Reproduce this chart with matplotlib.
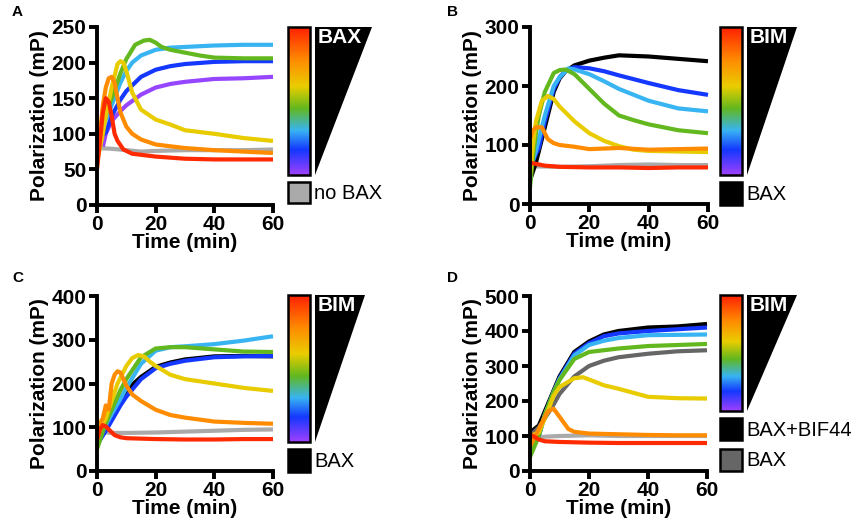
import numpy as np
import matplotlib
matplotlib.use("Agg")
import matplotlib.pyplot as plt
from matplotlib.colors import LinearSegmentedColormap
from matplotlib.patches import Rectangle, Polygon

plt.rcParams['font.family'] = ['Liberation Sans', 'DejaVu Sans']

W, H = 858, 528

# colours of the titration series
RED = '#ff2a00'
ORANGE = '#ff8c00'
YELLOW = '#e8cc00'
GREEN = '#62b81e'
LBLUE = '#38b4f2'
BLUE = '#1438ff'
PURPLE = '#9646ff'
LGRAY = '#aaaaaa'
DGRAY = '#666666'
BLACK = '#000000'

# -----------------------------
# Panel A: BAX titration (time in min, polarization in mP)
# -----------------------------
a_gray_t = [0, 5, 10, 15, 20, 30, 40, 50, 60]
a_gray = [80, 79, 77, 75, 76, 77, 77, 77, 78]
a_purple_t = [2, 3, 5, 8, 10, 15, 20, 25, 30, 40, 50, 60]
a_purple = [82, 100, 118, 132, 140, 155, 165, 170, 173, 177, 178, 180]
a_blue_t = [0, 2, 3, 5, 8, 10, 15, 20, 25, 30, 40, 50, 60]
a_blue = [100, 98, 102, 125, 148, 160, 180, 190, 195, 198, 201, 202, 202]
a_lblue_t = [0, 2, 5, 8, 10, 12, 15, 20, 25, 30, 40, 50, 60]
a_lblue = [90, 110, 140, 172, 188, 200, 210, 218, 221, 222, 224, 225, 225]
a_green_t = [0, 2, 3, 5, 8, 10, 13, 16, 18, 20, 22, 25, 30, 35, 40, 50, 60]
a_green = [70, 110, 128, 150, 185, 205, 225, 231, 232, 228, 222, 218, 214, 210, 207, 206, 206]
a_yellow_t = [0, 2, 3, 5, 7, 8, 9, 10, 12, 15, 20, 25, 30, 40, 50, 60]
a_yellow = [60, 100, 125, 165, 198, 202, 200, 188, 158, 134, 120, 113, 105, 100, 94, 90]
a_orange_t = [0, 1, 2, 3, 4, 5, 6, 7, 8, 10, 12, 15, 20, 30, 40, 50, 60]
a_orange = [55, 100, 140, 165, 178, 180, 172, 150, 130, 110, 100, 92, 85, 80, 77, 75, 73]
a_red_t = [0, 1, 2, 3, 4, 5, 6, 7, 9, 12, 20, 30, 40, 50, 60]
a_red = [50, 90, 130, 150, 145, 125, 100, 90, 78, 72, 68, 65, 64, 64, 64]

# -----------------------------
# Panel B: BIM titration with BAX
# -----------------------------
b_gray_t = [0, 10, 20, 30, 40, 50, 60]
b_gray = [64, 63, 64, 66, 67, 66, 66]
b_black_t = [0, 2, 3, 5, 8, 10, 12, 15, 20, 25, 30, 35, 40, 50, 60]
b_black = [40, 70, 90, 130, 190, 213, 225, 235, 243, 248, 252, 251, 250, 246, 242]
b_blue_t = [0, 2, 3, 5, 8, 10, 12, 15, 20, 25, 30, 40, 50, 60]
b_blue = [60, 85, 95, 140, 195, 215, 226, 232, 230, 225, 218, 205, 193, 185]
b_lblue_t = [0, 2, 5, 8, 10, 13, 15, 20, 25, 30, 35, 40, 50, 60]
b_lblue = [60, 90, 150, 200, 215, 230, 228, 220, 208, 195, 185, 175, 162, 157]
b_green_t = [0, 1, 2, 3, 5, 8, 10, 12, 15, 20, 25, 30, 35, 40, 50, 60]
b_green = [28, 80, 120, 150, 190, 222, 227, 228, 220, 195, 170, 150, 142, 135, 125, 120]
b_yellow_t = [0, 1, 2, 4, 6, 8, 10, 15, 20, 25, 30, 35, 40, 50, 60]
b_yellow = [50, 100, 140, 175, 183, 178, 165, 140, 120, 107, 98, 92, 90, 89, 88]
b_orange_t = [0, 1, 2, 4, 5, 6, 8, 10, 15, 20, 30, 40, 50, 60]
b_orange = [110, 125, 130, 130, 120, 110, 103, 100, 97, 93, 95, 92, 93, 94]
b_red_t = [0, 5, 10, 20, 30, 40, 50, 60]
b_red = [70, 65, 63, 62, 62, 61, 62, 62]

# -----------------------------
# Panel C: BIM titration with BAX
# -----------------------------
c_gray_t = [0, 5, 10, 20, 30, 40, 50, 60]
c_gray = [90, 87, 87, 88, 90, 92, 94, 95]
c_black_t = [0, 3, 5, 8, 10, 15, 20, 25, 30, 40, 50, 60]
c_black = [60, 95, 120, 160, 185, 215, 238, 248, 255, 262, 263, 262]
c_blue_t = [0, 3, 5, 8, 10, 15, 20, 25, 30, 40, 50, 60]
c_blue = [60, 92, 115, 150, 170, 210, 235, 245, 252, 260, 262, 263]
c_lblue_t = [0, 3, 5, 8, 10, 15, 20, 25, 30, 40, 50, 60]
c_lblue = [70, 105, 130, 165, 190, 245, 275, 283, 285, 290, 298, 308]
c_green_t = [0, 3, 5, 8, 10, 15, 20, 25, 30, 40, 50, 60]
c_green = [50, 110, 140, 185, 210, 260, 280, 283, 283, 278, 273, 272]
c_yellow_t = [0, 3, 5, 7, 10, 12, 14, 16, 18, 20, 25, 30, 40, 50, 60]
c_yellow = [80, 120, 160, 200, 240, 258, 265, 262, 250, 240, 220, 210, 200, 190, 183]
c_orange_t = [0, 1, 2, 3, 4, 5, 6, 7, 8, 9, 10, 12, 15, 20, 25, 30, 40, 50, 60]
c_orange = [100, 110, 120, 150, 140, 200, 220, 228, 225, 210, 195, 175, 160, 140, 128, 122, 113, 110, 108]
c_red_t = [0, 1, 2, 3, 4, 6, 8, 10, 20, 30, 40, 50, 60]
c_red = [70, 95, 105, 102, 95, 82, 77, 75, 73, 72, 72, 73, 73]

# -----------------------------
# Panel D: BIM titration with BAX+BIF44
# -----------------------------
d_lgray_t = [0, 3, 5, 10, 20, 30, 40, 50, 60]
d_lgray = [100, 95, 98, 100, 102, 100, 100, 100, 100]
d_dgray_t = [0, 3, 5, 8, 10, 15, 20, 25, 30, 40, 50, 60]
d_dgray = [100, 125, 150, 190, 220, 270, 300, 315, 325, 335, 342, 345]
d_black_t = [0, 3, 5, 8, 10, 15, 20, 25, 30, 40, 50, 60]
d_black = [110, 130, 170, 230, 270, 340, 370, 390, 400, 410, 413, 420]
d_blue_t = [0, 3, 5, 8, 10, 15, 20, 25, 30, 40, 50, 60]
d_blue = [60, 100, 160, 225, 265, 335, 365, 385, 393, 400, 405, 410]
d_lblue_t = [0, 3, 5, 8, 10, 15, 20, 25, 30, 40, 50, 60]
d_lblue = [60, 100, 160, 225, 262, 330, 360, 372, 380, 388, 389, 390]
d_green_t = [0, 3, 5, 8, 10, 15, 20, 25, 30, 40, 50, 60]
d_green = [40, 100, 160, 225, 260, 320, 340, 345, 350, 357, 360, 363]
d_yellow_t = [0, 3, 6, 8, 10, 15, 18, 22, 25, 30, 40, 50, 60]
d_yellow = [100, 110, 170, 215, 240, 265, 268, 255, 245, 235, 212, 208, 207]
d_orange_t = [0, 3, 6, 8, 10, 13, 15, 20, 30, 40, 50, 60]
d_orange = [70, 120, 170, 178, 155, 120, 112, 107, 105, 103, 102, 102]
d_red_t = [0, 1, 3, 5, 10, 20, 30, 40, 50, 60]
d_red = [105, 100, 90, 85, 83, 81, 80, 80, 80, 80]

rainbow = LinearSegmentedColormap.from_list(
    'rainbow_bar',
    [(0.0, '#ff2000'), (0.22, '#ff8a00'), (0.40, '#eacd00'), (0.55, '#62b81e'),
     (0.70, '#38b4f2'), (0.83, '#1438ff'), (1.0, '#a040ff')])

fig = plt.figure(figsize=(W / 100, H / 100), dpi=100)


def px_axes(left, top, right, bottom):
    return fig.add_axes([left / W, 1 - bottom / H, (right - left) / W, (bottom - top) / H])


def style_axes(ax, ymax, ystep):
    ax.set_xlim(0, 60)
    ax.set_ylim(0, ymax)
    ax.set_xticks([0, 20, 40, 60])
    ax.set_yticks(np.arange(0, ymax + 1, ystep))
    for s in ['top', 'right']:
        ax.spines[s].set_visible(False)
    for s in ['left', 'bottom']:
        ax.spines[s].set_linewidth(2.8)
        ax.spines[s].set_capstyle('projecting')
    ax.tick_params(width=2.8, length=6, labelsize=15, pad=1.5)
    for lab in ax.get_xticklabels() + ax.get_yticklabels():
        lab.set_fontweight('bold')
    ax.set_xlabel('Time (min)', fontsize=15, fontweight='bold', labelpad=-1)
    ax.set_ylabel('Polarization (mP)', fontsize=15, fontweight='bold', labelpad=2)


def draw(ax, series):
    for t, y, c in series:
        ax.plot(t, y, color=c, lw=3.0, solid_capstyle='butt', clip_on=False)


axA = px_axes(97, 27, 273, 205)
draw(axA, [(a_gray_t, a_gray, LGRAY), (a_purple_t, a_purple, PURPLE), (a_blue_t, a_blue, BLUE),
           (a_lblue_t, a_lblue, LBLUE), (a_green_t, a_green, GREEN), (a_yellow_t, a_yellow, YELLOW),
           (a_orange_t, a_orange, ORANGE), (a_red_t, a_red, RED)])
style_axes(axA, 250, 50)

axB = px_axes(530, 27, 708, 204)
draw(axB, [(b_gray_t, b_gray, LGRAY), (b_black_t, b_black, BLACK), (b_blue_t, b_blue, BLUE),
           (b_lblue_t, b_lblue, LBLUE), (b_green_t, b_green, GREEN), (b_yellow_t, b_yellow, YELLOW),
           (b_orange_t, b_orange, ORANGE), (b_red_t, b_red, RED)])
style_axes(axB, 300, 100)

axC = px_axes(97, 296, 273, 471)
draw(axC, [(c_gray_t, c_gray, LGRAY), (c_black_t, c_black, BLACK), (c_blue_t, c_blue, BLUE),
           (c_lblue_t, c_lblue, LBLUE), (c_green_t, c_green, GREEN), (c_yellow_t, c_yellow, YELLOW),
           (c_orange_t, c_orange, ORANGE), (c_red_t, c_red, RED)])
style_axes(axC, 400, 100)

axD = px_axes(530, 296, 707, 471)
draw(axD, [(d_lgray_t, d_lgray, LGRAY), (d_black_t, d_black, BLACK), (d_blue_t, d_blue, BLUE),
           (d_lblue_t, d_lblue, LBLUE), (d_dgray_t, d_dgray, DGRAY), (d_green_t, d_green, GREEN),
           (d_yellow_t, d_yellow, YELLOW), (d_orange_t, d_orange, ORANGE), (d_red_t, d_red, RED)])
style_axes(axD, 500, 100)

# -----------------------------
# Legends (overlay in pixel units)
# -----------------------------
ov = fig.add_axes([0, 0, 1, 1])
ov.set_xlim(0, W)
ov.set_ylim(H, 0)
ov.axis('off')
grad = np.linspace(0, 1, 256).reshape(-1, 1)


def legend(x0, y0, y1, tri_w, name, boxes):
    ov.imshow(grad, cmap=rainbow, aspect='auto', extent=[x0, x0 + 22, y1, y0], zorder=1)
    ov.add_patch(Rectangle((x0, y0), 22, y1 - y0, fill=False, ec='black', lw=1.8, zorder=2))
    ov.add_patch(Polygon([(x0 + 27, y0), (x0 + 27 + tri_w, y0), (x0 + 27, y1)],
                         closed=True, fc='black', ec='none'))
    ov.text(x0 + 30, y0 + 1, name, color='white', fontsize=15, fontweight='bold',
            ha='left', va='top')
    for by0, by1, fc, label in boxes:
        ov.add_patch(Rectangle((x0, by0), 22, by1 - by0, fc=fc, ec='black', lw=1.8))
        ov.text(x0 + 26, (by0 + by1) / 2 + 1, label, fontsize=14.5, ha='left', va='center')


legend(288, 27, 175, 57, 'BAX', [(182, 203, LGRAY, 'no BAX')])
legend(720, 27, 175, 50, 'BIM', [(182, 205, BLACK, 'BAX')])
legend(288, 295, 442, 50, 'BIM', [(449, 472, BLACK, 'BAX')])
legend(720, 295, 411, 50, 'BIM', [(418, 440, BLACK, 'BAX+BIF44'), (449, 471, DGRAY, 'BAX')])

for x, y, s in [(12, 5, 'A'), (447, 5, 'B'), (12, 271, 'C'), (447, 271, 'D')]:
    ov.text(x, y, s, fontsize=11, fontweight='bold', ha='left', va='top')

fig.savefig('out.png', dpi=100)
